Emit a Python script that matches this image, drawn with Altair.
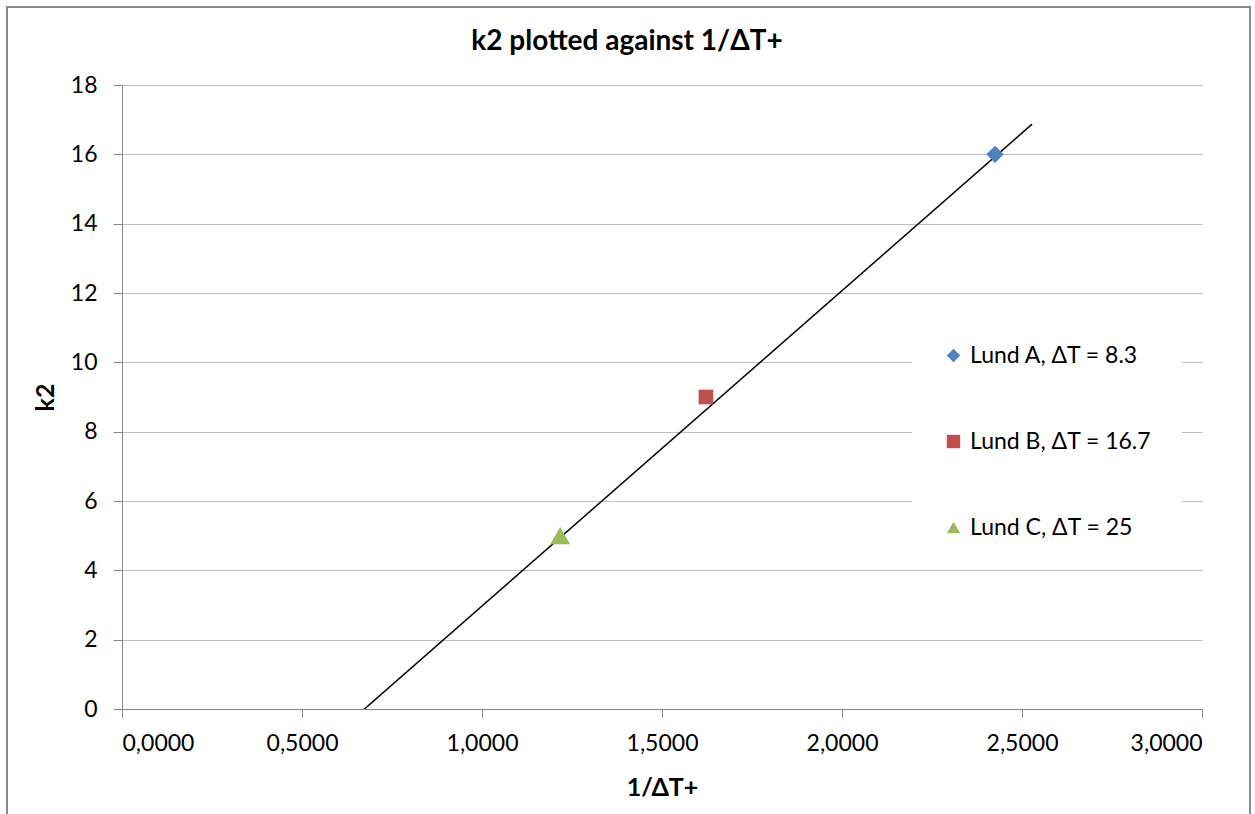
import altair as alt
import pandas as pd

# Data
series = ["Lund A, ΔT = 8.3", "Lund B, ΔT = 16.7", "Lund C, ΔT = 25"]
inv_dt = [2.425, 1.622, 1.217]
k2 = [16.0, 9.0, 5.0]
colors = ["#4f81bd", "#c0504d", "#9bbb59"]
shapes = ["diamond", "square", "triangle-up"]

trend_x = [0.668, 2.528]
trend_y = [-0.05, 16.87]

x_ticks = [0, 0.5, 1.0, 1.5, 2.0, 2.5, 3.0]
y_ticks = [0, 2, 4, 6, 8, 10, 12, 14, 16, 18]

pts = pd.DataFrame({"series": series, "x": inv_dt, "y": k2})
trend = pd.DataFrame({"x": trend_x, "y": trend_y})
frame = pd.DataFrame({"f": [1]})

FONT = "Lato"

x_enc = alt.X(
    "x:Q",
    scale=alt.Scale(domain=[0, 3], nice=False, zero=False),
    axis=alt.Axis(
        title="1/ΔT+",
        values=x_ticks,
        labelExpr="replace(format(datum.value, '.4f'), '.', ',')",
        grid=False,
        tickSize=8,
        labelPadding=15,
        titlePadding=20,
    ),
)
y_enc = alt.Y(
    "y:Q",
    scale=alt.Scale(domain=[0, 18], nice=False),
    axis=alt.Axis(
        title="k2",
        values=y_ticks,
        grid=True,
        tickSize=9,
        labelPadding=16,
        titlePadding=12,
    ),
)

line = alt.Chart(trend).mark_line(color="black", strokeWidth=1.5, clip=True).encode(
    x=x_enc, y=y_enc
)

size_rule = (
    alt.when(alt.datum.series == series[2]).then(alt.value(400))
    .when(alt.datum.series == series[0]).then(alt.value(300))
    .otherwise(alt.value(215))
)

points = alt.Chart(pts).mark_point(filled=True, opacity=1).encode(
    x="x:Q",
    y="y:Q",
    color=alt.Color(
        "series:N",
        scale=alt.Scale(domain=series, range=colors),
        legend=alt.Legend(
            title=None,
            orient="none",
            legendX=790,
            legendY=229,
            fillColor="white",
            padding=30,
            labelFontSize=23,
            labelFont=FONT,
            labelColor="black",
            symbolSize=180,
            rowPadding=62,
            labelOffset=5,
            labelLimit=400,
        ),
    ),
    shape=alt.Shape("series:N", scale=alt.Scale(domain=series, range=shapes)),
    size=size_rule,
)

border = alt.Chart(frame).mark_rect(
    fill=None, stroke="#888888", strokeWidth=2, clip=False
).encode(
    x=alt.value(-115),
    x2=alt.value(1128),
    y=alt.value(-78),
    y2=alt.value(760),
)

chart = (
    alt.layer(border, line, points)
    .properties(
        width=1080,
        height=624,
        autosize=alt.AutoSizeParams(type="none"),
        padding={"left": 122, "top": 85, "right": 53, "bottom": 105},
        title=alt.TitleParams(
            "k2 plotted against 1/ΔT+",
            fontSize=28,
            font=FONT,
            fontWeight="bold",
            anchor="middle",
            dx=-35,
            dy=50,
            offset=0,
            color="black",
        ),
    )
    .configure_view(stroke=None)
    .configure_axis(
        labelFont=FONT,
        titleFont=FONT,
        labelFontSize=23,
        titleFontSize=25,
        titleFontWeight="bold",
        labelColor="black",
        titleColor="black",
        domainColor="#868686",
        tickColor="#868686",
        gridColor="#bfbfbf",
        gridWidth=1,
        domainWidth=1,
    )
)

chart.save("out.html", embed_options={"renderer": "svg", "actions": False})
